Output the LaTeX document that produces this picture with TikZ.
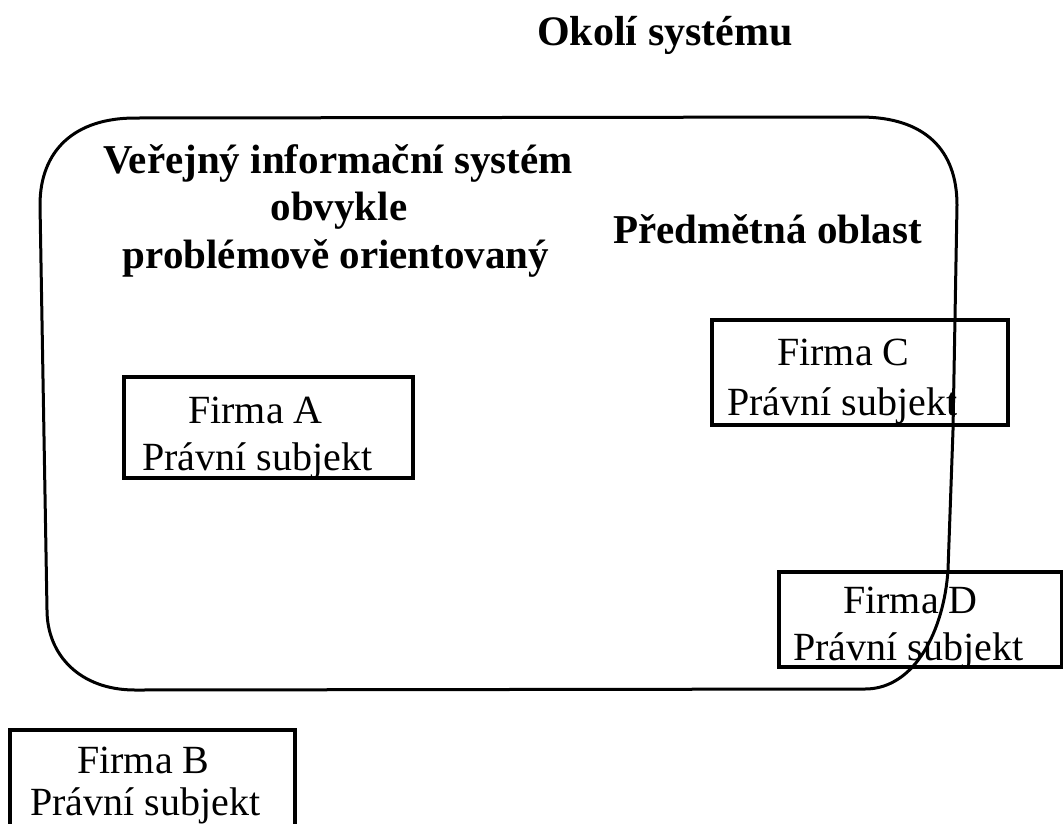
\documentclass[tikz,border=0pt]{standalone}
\usepackage{fontspec}
\setmainfont{Liberation Serif}
\begin{document}
\begin{tikzpicture}[x=1pt,y=-1pt,
  firmbox/.style={draw,line width=3.6pt,inner sep=0pt},
  boldlbl/.style={inner sep=0pt,font=\bfseries\fontsize{41}{46}\selectfont},
  reglbl/.style={inner sep=0pt,anchor=base west,font=\fontsize{40}{46}\selectfont}]
\useasboundingbox (0,0) rectangle (1063,823);
\clip (0,0) rectangle (1063,823);
% system outline
\draw[line width=3pt]
  (40,205) .. controls (40,150) and (75,118) .. (135,118)
  -- (860,117) .. controls (925,117) and (957,150) .. (957,205)
  -- (953,430) -- (948,570)
  .. controls (944,630) and (915,689) .. (865,689)
  -- (135,690) .. controls (80,690) and (47,655) .. (47,610) -- cycle;
% boxes
\draw[firmbox] (124,377) rectangle (413,478);
\draw[firmbox] (712,320) rectangle (1008,425);
\draw[firmbox] (779,572) rectangle (1062,667);
\draw[firmbox] (10,730) rectangle (295,840);
% titles
\node[boldlbl,anchor=base west,font=\bfseries\fontsize{42}{46}\selectfont] (okoli) at (537,45) {Okolí systému};
\node[boldlbl,anchor=base] (vis1) at (338,173) {Veřejný informační systém};
\node[boldlbl,anchor=base] (vis2) at (339,220) {obvykle};
\node[boldlbl,anchor=base] (vis3) at (336,268) {problémově orientovaný};
\node[boldlbl,anchor=base west] (po) at (613,243) {Předmětná oblast};
% firm labels
\node[reglbl] (fa1) at (188,423) {Firma A};
\node[reglbl] (fa2) at (142,470) {Právní subjekt};
\node[reglbl] (fc1) at (777,365) {Firma C};
\node[reglbl] (fc2) at (727,415) {Právní subjekt};
\node[reglbl] (fd1) at (843,613) {Firma D};
\node[reglbl] (fd2) at (793,660) {Právní subjekt};
\node[reglbl] (fb1) at (77,773) {Firma B};
\node[reglbl] (fb2) at (30,815) {Právní subjekt};
\end{tikzpicture}
\end{document}
